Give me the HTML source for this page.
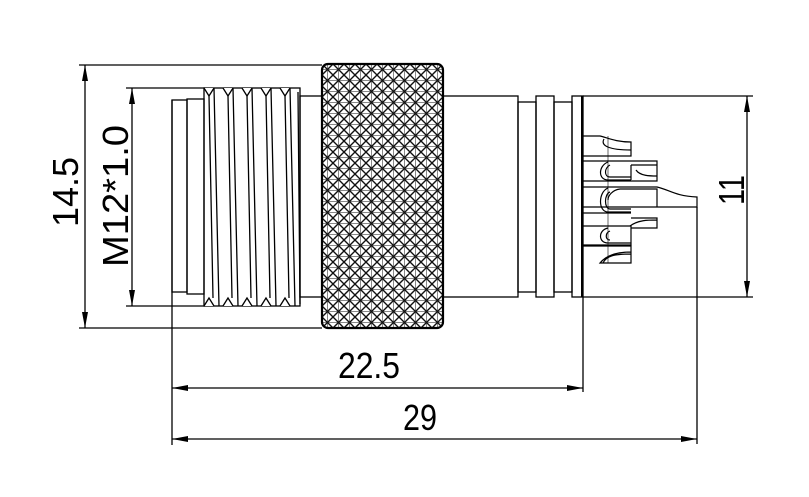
<!DOCTYPE html>
<html><head><meta charset="utf-8"><style>html,body{margin:0;padding:0;background:#fff}svg{display:block}</style></head>
<body>
<svg width="809" height="497" viewBox="0 0 809 497" xmlns="http://www.w3.org/2000/svg" font-family="Liberation Sans, sans-serif">
<defs>
<pattern id="kn" width="11" height="11" patternUnits="userSpaceOnUse" x="322" y="64">
<rect width="11" height="11" fill="#fff"/>
<path d="M-1,-1 L12,12 M-1,10 L1,12 M10,-1 L12,1 M12,-1 L-1,12 M1,-1 L-1,1 M12,10 L10,12" stroke="#111" stroke-width="1.4"/>
<path d="M5.5,0 L5.5,11 M0,5.5 L11,5.5" stroke="#111" stroke-width="0.5"/>
</pattern>
<marker id="a" viewBox="0 0 16 6" refX="16" refY="3" markerWidth="16" markerHeight="6" markerUnits="userSpaceOnUse" orient="auto-start-reverse"><path d="M0,0 L16,3 L0,6 z" fill="#000"/></marker>
</defs>
<g stroke="#000" stroke-width="1.3" fill="none">
<line x1="79" y1="65" x2="322" y2="65"/>
<line x1="79" y1="328" x2="322" y2="328"/>
<line x1="126" y1="88" x2="205" y2="88"/>
<line x1="126" y1="306" x2="205" y2="306"/>
<line x1="172" y1="100" x2="172" y2="445"/>
<line x1="583" y1="297" x2="583" y2="392"/>
<line x1="697" y1="207" x2="697" y2="444"/>
<line x1="583" y1="96" x2="753" y2="96"/>
<line x1="583" y1="297" x2="753" y2="297"/>
<line x1="85" y1="65" x2="85" y2="328" marker-start="url(#a)" marker-end="url(#a)"/>
<line x1="132" y1="88" x2="132" y2="306" marker-start="url(#a)" marker-end="url(#a)"/>
<line x1="747" y1="96" x2="747" y2="297" marker-start="url(#a)" marker-end="url(#a)"/>
<line x1="172" y1="388" x2="583" y2="388" marker-start="url(#a)" marker-end="url(#a)"/>
<line x1="172" y1="439" x2="697" y2="439" marker-start="url(#a)" marker-end="url(#a)"/>
<rect x="172" y="100" width="15" height="192"/>
<rect x="187" y="99" width="17" height="195"/>
<rect x="204" y="88" width="96" height="218"/>
<path d="M204,88 L209,96 L214,88 M223,88 L228,96 L233,88 M242,88 L247,96 L252,88 M261,88 L266,96 L271,88 M280,88 L285,96 L290,88 M204,306 L209,298 L214,306 M223,306 L228,298 L233,306 M242,306 L247,298 L252,306 M261,306 L266,298 L271,306 M280,306 L285,298 L290,306" fill="#fff"/>
<path d="M209,96 L213,298 M214,88 L219,306 M228,96 L232,298 M233,88 L238,306 M247,96 L251,298 M252,88 L257,306 M266,96 L270,298 M271,88 L276,306 M285,96 L289,298 M290,88 L295,306 M298,92 L300,304"/>
<rect x="300" y="96" width="22" height="201"/>
<rect x="322" y="64" width="121" height="264" rx="6" fill="url(#kn)" stroke-width="2.2"/>
<rect x="443" y="96" width="75" height="201"/>
<rect x="518" y="102" width="18" height="190"/>
<rect x="536" y="96" width="18" height="201"/>
<rect x="554" y="102" width="18" height="190"/>
<rect x="572" y="96" width="11" height="201"/>
<line x1="582" y1="96" x2="582" y2="297" stroke-width="2"/>
<g stroke-width="1.2">
<path d="M583,136 L600,136 C608,138 616,142 631,142 L631,156 L583,156"/>
<path d="M604,139 C600,146 610,150 631,150"/>
<path d="M583,161 L657,161 L657,181 L583,181"/>
<path d="M631,165 L657,165 M631,165 L631,180 M608,162 C598,166 598,180 608,180 L631,180 M610,165 C604,168 604,177 610,177 L631,177 M636,170 C640,176 650,176 657,176"/>
<path d="M583,187 L657,187 C670,190 675,196 697,197 L697,207 L583,207"/>
<path d="M620,189 L657,189 L657,207 M620,189 C612,190 608,196 608,200"/>
<path d="M583,213 L631,213 M608,188 C598,192 598,212 608,212 L631,212 M610,192 C604,194 604,209 610,209 L631,209"/>
<path d="M631,218 L657,218 L657,228 L631,228 M630,226 C638,220 648,220 657,220"/>
<path d="M583,226 L631,226 L631,245 L583,245 M608,228 C598,230 598,243 608,243 L631,243 M610,231 C605,233 605,240 610,240"/>
<path d="M583,246 L631,246 L631,263 L600,263 C604,258 612,252 631,252 M603,263 C606,256 614,254 631,254"/>
<line x1="608" y1="136" x2="608" y2="263" stroke-width="0.6"/>
</g>
</g>
<g fill="#000" font-size="36">
<text x="369" y="378" text-anchor="middle" textLength="62" lengthAdjust="spacingAndGlyphs">22.5</text>
<text x="420" y="430" text-anchor="middle" textLength="34" lengthAdjust="spacingAndGlyphs">29</text>
<text transform="translate(78,192) rotate(-90)" text-anchor="middle" textLength="70" lengthAdjust="spacingAndGlyphs">14.5</text>
<text transform="translate(128,196) rotate(-90)" text-anchor="middle" textLength="142" lengthAdjust="spacingAndGlyphs">M12*1.0</text>
<text transform="translate(744,190) rotate(-90)" text-anchor="middle" textLength="30" lengthAdjust="spacingAndGlyphs">11</text>
</g>
</svg>
</body></html>
